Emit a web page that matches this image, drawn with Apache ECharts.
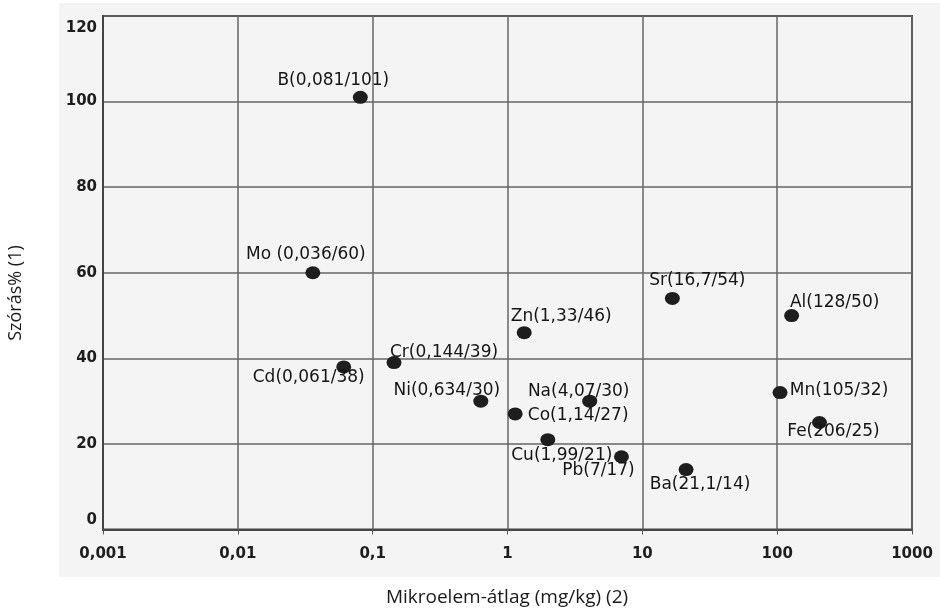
<!DOCTYPE html>
<html><head><meta charset="utf-8">
<script src="https://cdn.jsdelivr.net/npm/echarts@6/dist/echarts.min.js"></script>
<style>html,body{margin:0;padding:0;background:#fff}#c{width:940px;height:614px}</style>
</head><body><div id="c"></div>
<script>
// ---- data ----
const elements = ['B','Mo','Cd','Cr','Ni','Zn','Co','Cu','Na','Pb','Sr','Ba','Mn','Al','Fe'];
const meanValues = [0.081,0.036,0.061,0.144,0.634,1.33,1.14,1.99,4.07,7,16.7,21.1,105,128,206];
const stdPercent = [101,60,38,39,30,46,27,21,30,17,54,14,32,50,25];
const pointLabels = ['B(0,081/101)','Mo (0,036/60)','Cd(0,061/38)','Cr(0,144/39)','Ni(0,634/30)','Zn(1,33/46)','Co(1,14/27)','Cu(1,99/21)','Na(4,07/30)','Pb(7/17)','Sr(16,7/54)','Ba(21,1/14)','Mn(105/32)','Al(128/50)','Fe(206/25)'];
const xTickLabels = ['0,001','0,01','0,1','1','10','100','1000'];
const yTickLabels = ['0','20','40','60','80','100','120'];
const xTitle = 'Mikroelem-átlag (mg/kg) (2)';
const yTitle = 'Szórás% (1)';

// ---- label placement (styling) ----
const labelOffsets = {
  B:[-27,-17], Mo:[-7,-18], Cd:[-35,11], Cr:[50,-10], Ni:[-34,-11],
  Zn:[37,-16], Co:[63,2], Cu:[14,16], Na:[-11,-10], Pb:[-23,14],
  Sr:[25,-18], Ba:[14,15], Mn:[59,-2], Al:[43,-13], Fe:[14,9]
};

const chart = echarts.init(document.getElementById('c'), null, {renderer:'canvas'});
const tickFont = {fontFamily:'DejaVu Sans', fontSize:15, fontWeight:'bold', color:'#1e1e1e'};

chart.setOption({
  backgroundColor:'#ffffff',
  animation:false,
  graphic:[
    {type:'rect', silent:true, z:-10, shape:{x:59,y:3,width:881,height:574}, style:{fill:'#f4f4f4'}},
    {type:'text', silent:true, x:507, y:598, style:{text:xTitle, font:'19px "Open Sans"', fill:'#1a1a1a', textAlign:'center', textVerticalAlign:'middle'}},
    {type:'text', silent:true, x:16, y:293, rotation:Math.PI/2, style:{text:yTitle, font:'18px "Open Sans"', fill:'#1a1a1a', textAlign:'center', textVerticalAlign:'middle'}}
  ],
  grid:{left:103, right:28, top:16, bottom:84.5, show:true, borderColor:'#444', borderWidth:2, backgroundColor:'transparent'},
  xAxis:{
    type:'log', logBase:10, min:0.001, max:1000,
    axisLine:{show:true, lineStyle:{color:'#444', width:2}},
    axisTick:{show:true, length:5, lineStyle:{color:'#555', width:1}},
    splitLine:{show:true, lineStyle:{color:'#666', width:1.5}},
    minorTick:{show:false}, minorSplitLine:{show:false},
    axisLabel:Object.assign({margin:17, formatter:v => xTickLabels[Math.round(Math.log10(v))+3]}, tickFont)
  },
  yAxis:{
    type:'value', min:0, max:120, interval:20,
    axisLine:{show:true, lineStyle:{color:'#444', width:2}},
    axisTick:{show:false},
    splitLine:{show:true, lineStyle:{color:'#666', width:1.5}},
    axisLabel:Object.assign({
      margin:6,
      formatter:v => {
        const t = yTickLabels[Math.round(v/20)];
        if (v >= 120) return '{lo|' + t + '}';
        if (v <= 0) return '{hi|' + t + '}';
        return t;
      },
      rich:{
        lo:Object.assign({padding:[24,0,0,0]}, tickFont),
        hi:Object.assign({padding:[0,0,18,0]}, tickFont)
      }
    }, tickFont)
  },
  series:[{
    type:'scatter',
    symbol:'circle',
    symbolSize:[15,13],
    itemStyle:{color:'#1e1e1e', opacity:1},
    label:{
      show:true, position:'inside', align:'center', verticalAlign:'middle',
      fontFamily:'DejaVu Sans', fontSize:17, color:'#161616',
      formatter:p => pointLabels[p.dataIndex]
    },
    data: elements.map((n,i)=>({name:n, value:[meanValues[i], stdPercent[i]], label:{offset:labelOffsets[n]}}))
  }]
});
</script>
</body></html>
